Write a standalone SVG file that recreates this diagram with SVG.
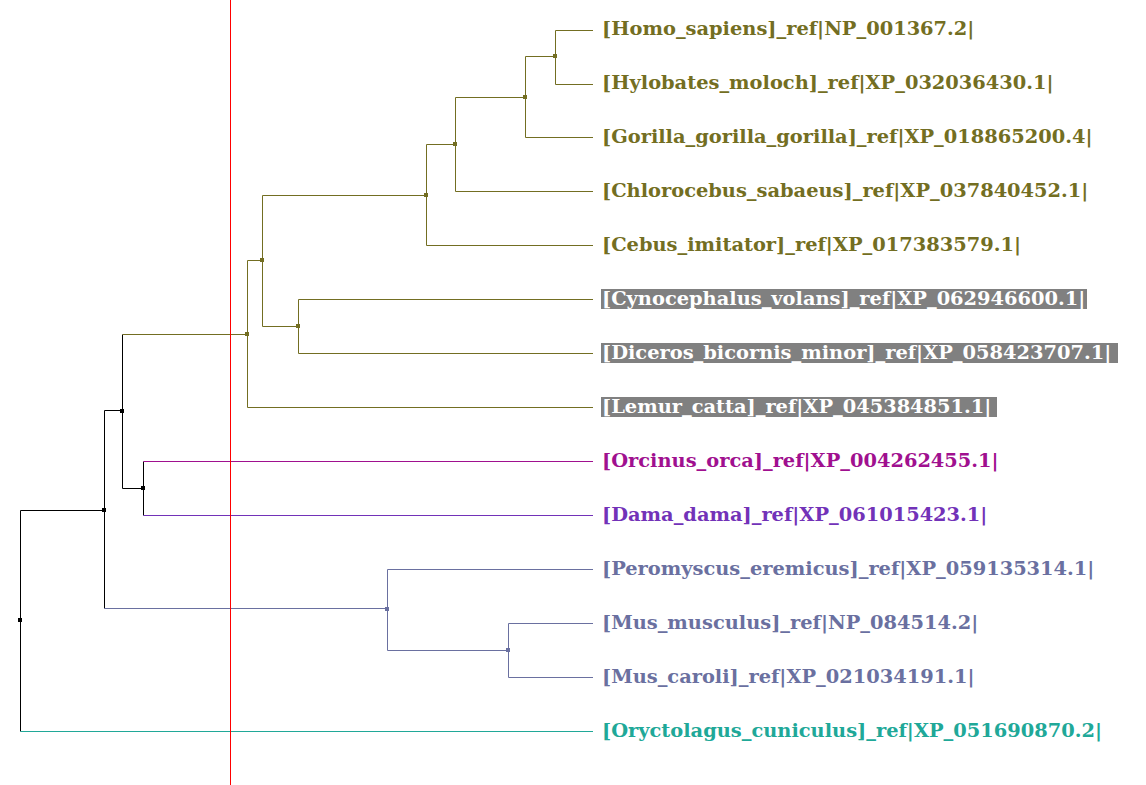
<svg xmlns="http://www.w3.org/2000/svg" width="1146" height="785" viewBox="0 0 1146 785">
<style>
.e{fill:none;stroke-width:1}
.k{stroke:#000}
.o{stroke:#736e22}
.b{stroke:#6a70a0}
.m{stroke:#a0108f}
.p{stroke:#7232b8}
.t{stroke:#20a898}
.lbl{font-family:"DejaVu Serif",serif;font-weight:bold;font-size:19.4px}
.fo{fill:#736e22}
.fb{fill:#6a70a0}
.fm{fill:#a0108f}
.fp{fill:#7232b8}
.ft{fill:#20a898}
.fw{fill:#ffffff}
.bg{fill:#808080}
</style>
<rect width="1146" height="785" fill="#ffffff"/>
<g id="connectors">
<path class="e k" d="M20.5,510.5V731.5M20.5,510.5H104.5M104.5,410.5V608.5M104.5,410.5H122.5M122.5,334.5V488.5M122.5,488.5H143.5M143.5,461.5V515.5"/>
<path class="e m" d="M143.5,461.5H593"/>
<path class="e p" d="M143.5,515.5H593"/>
<path class="e t" d="M20.5,731.5H593"/>
<path class="e b" d="M104.5,608.5H387.5M387.5,569.5V650.5M387.5,569.5H593M387.5,650.5H508.5M508.5,623.5V677.5M508.5,623.5H593M508.5,677.5H593"/>
<path class="e o" d="M122.5,334.5H247.5M247.5,260.5V407.5M247.5,407.5H593M247.5,260.5H262.5M262.5,195.5V326.5M262.5,326.5H298.5M298.5,299.5V353.5M298.5,299.5H593M298.5,353.5H593M262.5,195.5H426.5M426.5,144.5V245.5M426.5,245.5H593M426.5,144.5H455.5M455.5,97.5V191.5M455.5,191.5H593M455.5,97.5H525.5M525.5,56.5V137.5M525.5,137.5H593M525.5,56.5H555.5M555.5,30.5V84.5M555.5,30.5H593M555.5,84.5H593"/>
<path fill="none" stroke="#ff0000" stroke-width="1" d="M230.5,0V785"/>
</g>
<g id="internal-nodes">
<rect id="n_root" x="18" y="618" width="4" height="4" fill="#000"/>
<rect id="n1" x="102" y="508" width="4" height="4" fill="#000"/>
<rect id="n2" x="120" y="409" width="4" height="4" fill="#000"/>
<rect id="n3" x="141" y="486" width="4" height="4" fill="#000"/>
<rect id="n4" x="385" y="607" width="4" height="4" fill="#6a70a0"/>
<rect id="n5" x="506" y="648" width="4" height="4" fill="#6a70a0"/>
<rect id="n6" x="245" y="332" width="4" height="4" fill="#736e22"/>
<rect id="n7" x="260" y="258" width="4" height="4" fill="#736e22"/>
<rect id="n8" x="296" y="324" width="4" height="4" fill="#736e22"/>
<rect id="n9" x="424" y="193" width="4" height="4" fill="#736e22"/>
<rect id="n10" x="453" y="142" width="4" height="4" fill="#736e22"/>
<rect id="n11" x="523" y="95" width="4" height="4" fill="#736e22"/>
<rect id="n12" x="553" y="54" width="4" height="4" fill="#736e22"/>
</g>
<g id="leaf-homo"><text class="lbl fo" x="602" y="35">[Homo_sapiens]_ref|NP_001367.2|</text></g>
<g id="leaf-hylobates"><text class="lbl fo" x="602" y="89">[Hylobates_moloch]_ref|XP_032036430.1|</text></g>
<g id="leaf-gorilla"><text class="lbl fo" x="602" y="143">[Gorilla_gorilla_gorilla]_ref|XP_018865200.4|</text></g>
<g id="leaf-chlorocebus"><text class="lbl fo" x="602" y="197">[Chlorocebus_sabaeus]_ref|XP_037840452.1|</text></g>
<g id="leaf-cebus"><text class="lbl fo" x="602" y="251">[Cebus_imitator]_ref|XP_017383579.1|</text></g>
<g id="leaf-cynocephalus"><rect class="bg" x="601" y="289" width="486" height="20"/><text class="lbl fw" x="602" y="305">[Cynocephalus_volans]_ref|XP_062946600.1|</text></g>
<g id="leaf-diceros"><rect class="bg" x="601" y="343" width="517" height="20"/><text class="lbl fw" x="602" y="359">[Diceros_bicornis_minor]_ref|XP_058423707.1|</text></g>
<g id="leaf-lemur"><rect class="bg" x="601" y="397" width="396" height="20"/><text class="lbl fw" x="602" y="413">[Lemur_catta]_ref|XP_045384851.1|</text></g>
<g id="leaf-orcinus"><text class="lbl fm" x="602" y="467">[Orcinus_orca]_ref|XP_004262455.1|</text></g>
<g id="leaf-dama"><text class="lbl fp" x="602" y="521">[Dama_dama]_ref|XP_061015423.1|</text></g>
<g id="leaf-peromyscus"><text class="lbl fb" x="602" y="575">[Peromyscus_eremicus]_ref|XP_059135314.1|</text></g>
<g id="leaf-musmusculus"><text class="lbl fb" x="602" y="629">[Mus_musculus]_ref|NP_084514.2|</text></g>
<g id="leaf-muscaroli"><text class="lbl fb" x="602" y="683">[Mus_caroli]_ref|XP_021034191.1|</text></g>
<g id="leaf-oryctolagus"><text class="lbl ft" x="602" y="737">[Oryctolagus_cuniculus]_ref|XP_051690870.2|</text></g>
</svg>
